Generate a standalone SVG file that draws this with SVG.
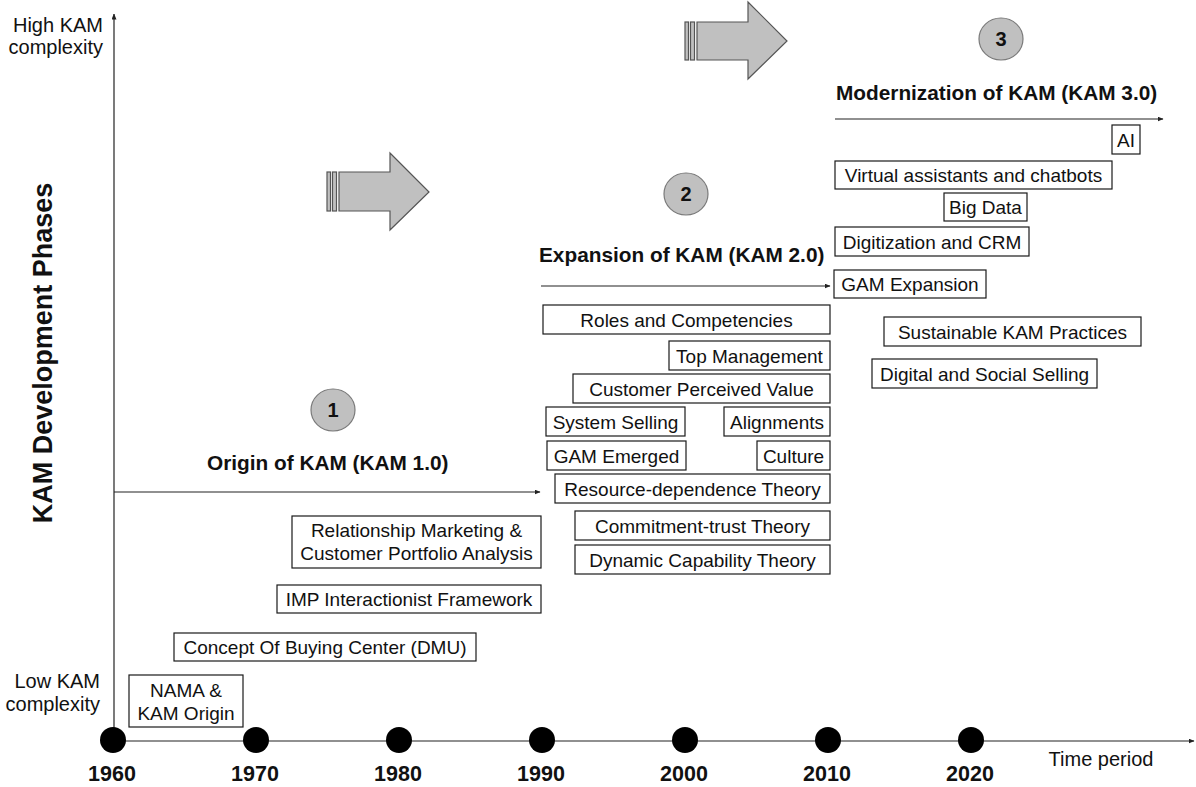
<svg xmlns="http://www.w3.org/2000/svg" width="1196" height="787" viewBox="0 0 1196 787">
  <style>
    .bg { fill: #ffffff; }
    .box { fill: #ffffff; stroke: #1a1a1a; stroke-width: 1.2; }
    .t { font-family: "Liberation Sans", Arial, sans-serif; font-size: 19px; fill: #111111; text-anchor: middle; }
    .lbl { font-family: "Liberation Sans", Arial, sans-serif; font-size: 20px; fill: #111111; }
    .h { font-family: "Liberation Sans", Arial, sans-serif; font-size: 20.8px; font-weight: bold; fill: #111111; }
    .yr { font-family: "Liberation Sans", Arial, sans-serif; font-size: 21.5px; font-weight: bold; fill: #111111; text-anchor: middle; }
    .badge { fill: #c0c0c0; stroke: #7a7a7a; stroke-width: 1.2; }
    .badge-t { font-family: "Liberation Sans", Arial, sans-serif; font-size: 20px; font-weight: bold; fill: #111111; text-anchor: middle; }
    .block { fill: #c0c0c0; stroke: #555555; stroke-width: 1.2; }
    .line { fill: none; stroke: #222222; stroke-width: 1.2; }
    .dot { fill: #000000; }
  </style>
  <defs>
    <marker id="tip" viewBox="0 0 6 5" refX="5.5" refY="2.5" markerWidth="6" markerHeight="5" markerUnits="userSpaceOnUse" orient="auto">
      <path d="M0,0 L6,2.5 L0,5 z" fill="#222222"/>
    </marker>
  </defs>

  <rect class="bg" x="0" y="0" width="1196" height="787"/>

  <!-- axes, phase arrows and timeline -->
  <g id="connectors">
    <line class="line" x1="114" y1="741" x2="114" y2="14" marker-end="url(#tip)"/>
    <line class="line" x1="114" y1="741" x2="1194" y2="741" marker-end="url(#tip)"/>
    <line class="line" x1="114" y1="492" x2="540" y2="492" marker-end="url(#tip)"/>
    <line class="line" x1="541" y1="286" x2="830" y2="286" marker-end="url(#tip)"/>
    <line class="line" x1="835" y1="119" x2="1163" y2="119" marker-end="url(#tip)"/>
  </g>

  <!-- axis labels -->
  <g id="axis-labels">
    <text class="lbl" x="103" y="32" text-anchor="end">High KAM</text>
    <text class="lbl" x="103" y="54" text-anchor="end">complexity</text>
    <text class="lbl" x="100" y="688" text-anchor="end">Low KAM</text>
    <text class="lbl" x="100" y="711" text-anchor="end">complexity</text>
    <text class="lbl" x="1101" y="766" text-anchor="middle">Time period</text>
    <text x="52" y="353" transform="rotate(-90 52 353)" text-anchor="middle" font-family="'Liberation Sans', Arial, sans-serif" font-size="27" font-weight="bold" fill="#111111">KAM Development Phases</text>
  </g>

  <!-- timeline milestones -->
  <g id="timeline">
    <circle class="dot" cx="113" cy="740" r="13"/>
    <circle class="dot" cx="256" cy="740" r="13"/>
    <circle class="dot" cx="399" cy="740" r="13"/>
    <circle class="dot" cx="542" cy="740" r="13"/>
    <circle class="dot" cx="685" cy="740" r="13"/>
    <circle class="dot" cx="828" cy="740" r="13"/>
    <circle class="dot" cx="971" cy="740" r="13"/>
    <text class="yr" x="112" y="781">1960</text>
    <text class="yr" x="255" y="781">1970</text>
    <text class="yr" x="398" y="781">1980</text>
    <text class="yr" x="541" y="781">1990</text>
    <text class="yr" x="684" y="781">2000</text>
    <text class="yr" x="827" y="781">2010</text>
    <text class="yr" x="970" y="781">2020</text>
  </g>

  <!-- block arrows between phases -->
  <g id="block-arrow-1">
    <rect class="block" x="327" y="172" width="3.5" height="39"/>
    <rect class="block" x="332.5" y="172" width="4" height="39"/>
    <path class="block" d="M339,172 L390,172 L390,153 L429,192 L390,230 L390,211 L339,211 Z"/>
  </g>
  <g id="block-arrow-2">
    <rect class="block" x="685" y="22" width="3.5" height="38"/>
    <rect class="block" x="690.5" y="22" width="4" height="38"/>
    <path class="block" d="M697,22 L748,22 L748,2 L787,41 L748,79 L748,60 L697,60 Z"/>
  </g>

  <!-- phase badges and titles -->
  <g id="phase-1">
    <ellipse class="badge" cx="333" cy="410" rx="22" ry="21"/>
    <text class="badge-t" x="333" y="417">1</text>
    <text class="h" x="207" y="470">Origin of KAM (KAM 1.0)</text>
  </g>
  <g id="phase-2">
    <ellipse class="badge" cx="686" cy="194" rx="22" ry="21"/>
    <text class="badge-t" x="686" y="201">2</text>
    <text class="h" x="539" y="262">Expansion of KAM (KAM 2.0)</text>
  </g>
  <g id="phase-3">
    <ellipse class="badge" cx="1001" cy="39" rx="22" ry="21"/>
    <text class="badge-t" x="1001" y="46">3</text>
    <text class="h" x="836" y="100">Modernization of KAM (KAM 3.0)</text>
  </g>

  <!-- KAM 1.0 concepts -->
  <g id="nama">
    <rect class="box" x="129" y="675" width="114" height="52"/>
    <text class="t" x="186" y="697">NAMA &amp;</text>
    <text class="t" x="186" y="720">KAM Origin</text>
  </g>
  <g id="buying-center">
    <rect class="box" x="174" y="633" width="302" height="28"/>
    <text class="t" x="325" y="654">Concept Of Buying Center (DMU)</text>
  </g>
  <g id="imp">
    <rect class="box" x="277" y="585" width="264" height="28"/>
    <text class="t" x="409" y="606">IMP Interactionist Framework</text>
  </g>
  <g id="relationship-marketing">
    <rect class="box" x="292" y="516" width="249" height="52"/>
    <text class="t" x="416.5" y="537">Relationship Marketing &amp;</text>
    <text class="t" x="416.5" y="560">Customer Portfolio Analysis</text>
  </g>

  <!-- KAM 2.0 concepts -->
  <g id="roles">
    <rect class="box" x="543" y="305" width="287" height="29"/>
    <text class="t" x="686.5" y="327">Roles and Competencies</text>
  </g>
  <g id="top-management">
    <rect class="box" x="669" y="341" width="161" height="29"/>
    <text class="t" x="749.5" y="363">Top Management</text>
  </g>
  <g id="customer-value">
    <rect class="box" x="573" y="374" width="257" height="29"/>
    <text class="t" x="701.5" y="396">Customer Perceived Value</text>
  </g>
  <g id="system-selling">
    <rect class="box" x="546" y="407" width="139" height="29"/>
    <text class="t" x="615.5" y="429">System Selling</text>
  </g>
  <g id="alignments">
    <rect class="box" x="724" y="407" width="106" height="29"/>
    <text class="t" x="777" y="429">Alignments</text>
  </g>
  <g id="gam-emerged">
    <rect class="box" x="547" y="441" width="139" height="29"/>
    <text class="t" x="616.5" y="463">GAM Emerged</text>
  </g>
  <g id="culture">
    <rect class="box" x="757" y="441" width="73" height="29"/>
    <text class="t" x="793.5" y="463">Culture</text>
  </g>
  <g id="resource-dependence">
    <rect class="box" x="555" y="474" width="275" height="29"/>
    <text class="t" x="692.5" y="496">Resource-dependence Theory</text>
  </g>
  <g id="commitment-trust">
    <rect class="box" x="575" y="511" width="255" height="29"/>
    <text class="t" x="702.5" y="533">Commitment-trust Theory</text>
  </g>
  <g id="dynamic-capability">
    <rect class="box" x="575" y="545" width="255" height="29"/>
    <text class="t" x="702.5" y="567">Dynamic Capability Theory</text>
  </g>

  <!-- KAM 3.0 concepts -->
  <g id="ai">
    <rect class="box" x="1112" y="125" width="28" height="29"/>
    <text class="t" x="1126" y="147">AI</text>
  </g>
  <g id="virtual-assistants">
    <rect class="box" x="835" y="161" width="277" height="28"/>
    <text class="t" x="973.5" y="182">Virtual assistants and chatbots</text>
  </g>
  <g id="big-data">
    <rect class="box" x="944" y="193" width="83" height="28"/>
    <text class="t" x="985.5" y="214">Big Data</text>
  </g>
  <g id="digitization">
    <rect class="box" x="835" y="227" width="194" height="29"/>
    <text class="t" x="932" y="249">Digitization and CRM</text>
  </g>
  <g id="gam-expansion">
    <rect class="box" x="834" y="270" width="152" height="28"/>
    <text class="t" x="910" y="291">GAM Expansion</text>
  </g>
  <g id="sustainable-kam">
    <rect class="box" x="884" y="317" width="257" height="29"/>
    <text class="t" x="1012.5" y="339">Sustainable KAM Practices</text>
  </g>
  <g id="digital-selling">
    <rect class="box" x="872" y="359" width="225" height="29"/>
    <text class="t" x="984.5" y="381">Digital and Social Selling</text>
  </g>
</svg>
